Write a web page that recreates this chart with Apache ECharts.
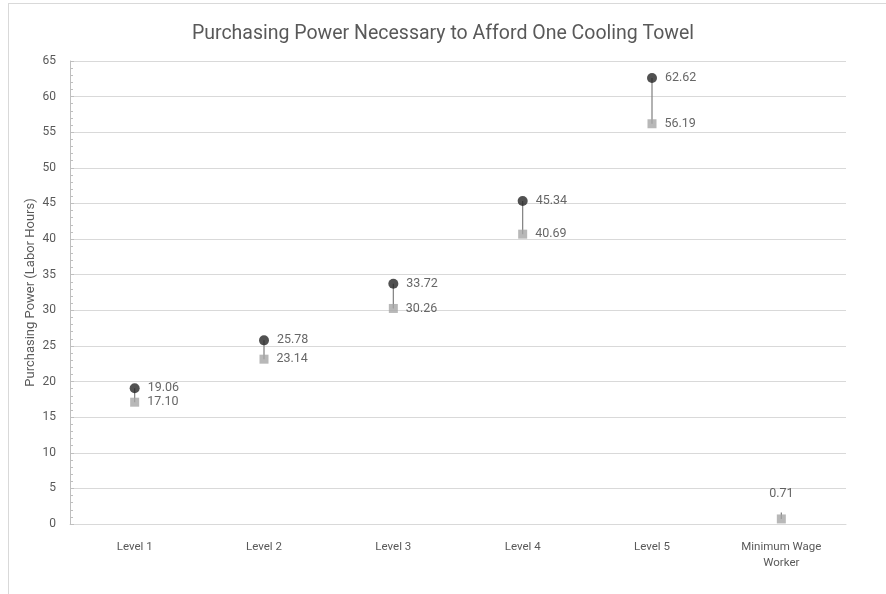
<!DOCTYPE html>
<html>
<head>
<meta charset="utf-8">
<script src="https://cdn.jsdelivr.net/npm/echarts@6/dist/echarts.min.js"></script>
<style>
  html, body { margin: 0; padding: 0; background: #fff; }
  #frame { position: absolute; left: 8px; top: 3px; width: 890px; height: 600px; border: 1px solid #d9d9d9; box-sizing: border-box; }
  #chart { position: absolute; left: 0; top: 0; width: 886px; height: 594px; }
</style>
</head>
<body>
<div id="frame"></div>
<div id="chart"></div>
<script>
// Categories along the x axis
const categories = ['Level 1', 'Level 2', 'Level 3', 'Level 4', 'Level 5', 'Minimum Wage\nWorker'];
// Upper bound of labor hours (circles); null where no marker is drawn
const highValues = [19.06, 25.78, 33.72, 45.34, 62.62, null];
// Lower bound of labor hours (squares)
const lowValues = [17.10, 23.14, 30.26, 40.69, 56.19, 0.71];
// Top of the connector line for each category
const lineTops = [19.06, 25.78, 33.72, 45.34, 62.62, 1.6];

const chart = echarts.init(document.getElementById('chart'));
const textColor = '#595959';

chart.setOption({
  animation: false,
  title: {
    text: 'Purchasing Power Necessary to Afford One Cooling Towel',
    left: 'center',
    top: 19,
    textStyle: { fontFamily: 'Roboto', fontSize: 19.5, fontWeight: 'normal', color: textColor }
  },
  grid: { left: 70, right: 40, top: 61, bottom: 70, containLabel: false },
  xAxis: {
    type: 'category',
    data: categories,
    axisLine: { show: true, lineStyle: { color: '#d9d9d9' } },
    axisTick: { show: false },
    axisLabel: { color: textColor, fontFamily: 'Roboto', fontSize: 11.5, margin: 15, lineHeight: 16 }
  },
  yAxis: {
    type: 'value',
    min: 0, max: 65, interval: 5,
    name: 'Purchasing Power (Labor Hours)',
    nameLocation: 'middle',
    nameGap: 33,
    nameMoveOverlap: false,
    nameTextStyle: { color: textColor, fontFamily: 'Roboto', fontSize: 13 },
    axisLine: { show: true, lineStyle: { color: '#bfbfbf' } },
    axisTick: { show: true, inside: true, length: 4, lineStyle: { color: '#bfbfbf' } },
    minorTick: { show: true, splitNumber: 5, length: 3, lineStyle: { color: '#bfbfbf' } },
    splitLine: { show: true, lineStyle: { color: '#d9d9d9' } },
    axisLabel: { color: textColor, fontFamily: 'Roboto', fontSize: 12, margin: 14 }
  },
  series: [
    {
      // vertical connectors between low and high values
      type: 'custom',
      silent: true,
      z: 1,
      data: lowValues.map((v, i) => [i, v, lineTops[i]]),
      renderItem: function (params, api) {
        const p1 = api.coord([api.value(0), api.value(1)]);
        const p2 = api.coord([api.value(0), api.value(2)]);
        return {
          type: 'line',
          shape: { x1: p1[0], y1: p1[1], x2: p2[0], y2: p2[1] },
          style: { stroke: '#7f7f7f', lineWidth: 1.2 }
        };
      }
    },
    {
      name: 'High',
      type: 'scatter',
      symbol: 'circle',
      symbolSize: 10,
      z: 3,
      itemStyle: { color: '#262626' },
      data: highValues,
      label: {
        show: true, position: 'right', distance: 8,
        color: '#404040', fontFamily: 'Roboto', fontSize: 12.5,
        formatter: p => p.value == null ? '' : Number(p.value).toFixed(2)
      }
    },
    {
      name: 'Low',
      type: 'scatter',
      symbol: 'rect',
      symbolSize: 9,
      z: 2,
      itemStyle: { color: '#a6a6a6' },
      data: lowValues.map((v, i) => ({
        value: v,
        label: i === 5 ? { position: 'top', distance: 14 } : undefined
      })),
      label: {
        show: true, position: 'right', distance: 8,
        color: '#404040', fontFamily: 'Roboto', fontSize: 12.5,
        formatter: p => Number(p.value).toFixed(2)
      }
    }
  ]
});
</script>
</body>
</html>
